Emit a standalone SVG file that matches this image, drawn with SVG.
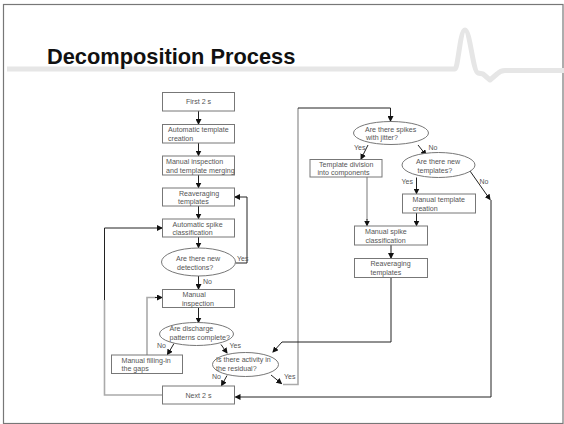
<svg xmlns="http://www.w3.org/2000/svg" width="564" height="424" viewBox="0 0 564 424">
<defs>
<marker id="ah" markerWidth="6" markerHeight="6" refX="5" refY="3" orient="auto" markerUnits="userSpaceOnUse">
<path d="M0,0 L6,3 L0,6 Z" fill="#111"/>
</marker>
<style>
.box{fill:#fff;stroke:#777;stroke-width:1}
.t{font-family:"Liberation Sans",Arial,sans-serif;font-size:7.1px;fill:#555}
.tc{font-family:"Liberation Sans",Arial,sans-serif;font-size:7.1px;fill:#555;text-anchor:middle}
.lbl{font-family:"Liberation Sans",Arial,sans-serif;font-size:7px;fill:#555}
.c{fill:none;stroke:#222;stroke-width:1}
.g{fill:none;stroke:#aaa;stroke-width:1.6}
</style>
</defs>
<rect x="0" y="0" width="564" height="424" fill="#fff"/>
<rect x="3.5" y="4.5" width="559.5" height="419" fill="none" stroke="#777" stroke-width="1.2"/>
<path d="M7 69 H455 C458 69 460 30 465 30 C470 30 473 72 478 73 L483 74 L490 80 L497 74 C499 72 501 70.5 505 70.5 H564" fill="none" stroke="#e6e6e6" stroke-width="5" stroke-linejoin="round"/>
<text x="47" y="64" font-family="'Liberation Sans',Arial,sans-serif" font-size="21.8" font-weight="bold" fill="#111">Decomposition Process</text>

<g id="connectors">
<path class="c" d="M198.5 111 V124" marker-end="url(#ah)"/>
<path class="c" d="M198.5 143 V155.5" marker-end="url(#ah)"/>
<path class="c" d="M198.5 175 V187.5" marker-end="url(#ah)"/>
<path class="c" d="M198.5 206 V218.5" marker-end="url(#ah)"/>
<path class="c" d="M198.5 237 V247.5" marker-end="url(#ah)"/>
<path class="c" d="M235.5 263 H247 V197 H235" marker-end="url(#ah)"/>
<path class="c" d="M198.5 276 V289" marker-end="url(#ah)"/>
<path class="c" d="M198.5 307.5 V322.5" marker-end="url(#ah)"/>
<path class="c" d="M174 343.5 L167.5 354.5" marker-end="url(#ah)"/>
<path class="c" d="M221 344.5 L227 353" marker-end="url(#ah)"/>
<path class="g" d="M147 355 V297.5 H156"/>
<path class="c" d="M155 297.5 H162" marker-end="url(#ah)"/>
<path class="c" d="M227 375.5 L221.5 385.5" marker-end="url(#ah)"/>
<path class="c" d="M271 375 L281.5 383.5" marker-end="url(#ah)"/>
<path class="g" d="M283 384.5 H298 V108"/>
<path class="c" d="M298 108 H390.5 V121" marker-end="url(#ah)"/>
<path class="g" d="M162.5 395 H104.5 V300"/>
<path class="c" d="M104.5 300 V228 H162" marker-end="url(#ah)"/>
<path class="c" d="M368 145 L361 159" marker-end="url(#ah)"/>
<path class="c" d="M418 145 L426 155" marker-end="url(#ah)"/>
<path class="g" d="M367 177 V220"/>
<path class="c" d="M367 219 V225.5" marker-end="url(#ah)"/>
<path class="c" d="M416.5 177.5 V193.5" marker-end="url(#ah)"/>
<path class="c" d="M470 171 L490 199.5" marker-end="url(#ah)"/>
<path class="c" d="M491 200 V397 H235.5" marker-end="url(#ah)"/>
<path class="c" d="M416.5 213 V225.5" marker-end="url(#ah)"/>
<path class="c" d="M391 245 V258" marker-end="url(#ah)"/>
<path class="c" d="M391 277.5 V342 H282 L273 352" marker-end="url(#ah)"/>
</g>

<g id="n1"><rect class="box" x="162.5" y="92.5" width="72" height="18.5"/><text class="tc" x="198.5" y="104">First 2 s</text></g>
<g id="n2"><rect class="box" x="162.5" y="124.5" width="72" height="18.5"/><text class="t" x="168" y="132">Automatic template</text><text class="t" x="168" y="140.5">creation</text></g>
<g id="n3"><rect class="box" x="162.5" y="156" width="72" height="19"/><text class="t" x="166" y="164">Manual inspection</text><text class="t" x="166" y="173">and template merging</text></g>
<g id="n4"><rect class="box" x="162.5" y="188" width="72" height="18"/><text class="t" x="179" y="195.5">Reaveraging</text><text class="t" x="178" y="204">templates</text></g>
<g id="n5"><rect class="box" x="162.5" y="219" width="72" height="18"/><text class="t" x="172.5" y="226.5">Automatic spike</text><text class="t" x="172.5" y="235">classification</text></g>
<g id="n6"><ellipse class="box" cx="198.5" cy="262" rx="37" ry="14"/><text class="t" x="176" y="261">Are there new</text><text class="t" x="177" y="270">detections?</text></g>
<g id="n7"><rect class="box" x="162.5" y="289.5" width="72" height="18"/><text class="t" x="182.5" y="297">Manual</text><text class="t" x="182" y="305.5">inspection</text></g>
<g id="n8"><ellipse class="box" cx="196.5" cy="334" rx="37" ry="11.5"/><text class="t" x="169.5" y="331">Are discharge</text><text class="t" x="169.5" y="340">patterns complete?</text></g>
<g id="n9"><rect class="box" x="111.5" y="355" width="71" height="18.5"/><text class="t" x="121.5" y="362.5">Manual filling-in</text><text class="t" x="121.5" y="371">the gaps</text></g>
<g id="n10"><ellipse class="box" cx="245.5" cy="364.5" rx="33" ry="12"/><text class="t" x="216" y="362">Is there activity in</text><text class="t" x="216" y="371">the residual?</text></g>
<g id="n11"><rect class="box" x="162.5" y="386" width="72" height="18"/><text class="tc" x="198.5" y="397.5">Next 2 s</text></g>
<g id="n12"><ellipse class="box" cx="391" cy="133" rx="37.5" ry="11.5"/><text class="t" x="365" y="131.5">Are there spikes</text><text class="t" x="366" y="140">with jitter?</text></g>
<g id="n13"><rect class="box" x="310" y="159.5" width="72" height="17.5"/><text class="t" x="319" y="166.5">Template division</text><text class="t" x="317.5" y="175">into components</text></g>
<g id="n14"><ellipse class="box" cx="438.5" cy="165" rx="36.5" ry="12.5"/><text class="t" x="416" y="164">Are there new</text><text class="t" x="417.5" y="172.5">templates?</text></g>
<g id="n15"><rect class="box" x="402.5" y="194" width="73" height="19"/><text class="t" x="412.5" y="201.5">Manual template</text><text class="t" x="412.5" y="210.5">creation</text></g>
<g id="n16"><rect class="box" x="354.5" y="226" width="73" height="19"/><text class="t" x="365" y="233.5">Manual spike</text><text class="t" x="365.5" y="242.5">classification</text></g>
<g id="n17"><rect class="box" x="354.5" y="258.5" width="73" height="19"/><text class="t" x="370.5" y="266">Reaveraging</text><text class="t" x="370.5" y="275">templates</text></g>

<g id="labels">
<text class="lbl" x="237" y="261">Yes</text>
<text class="lbl" x="203" y="284">No</text>
<text class="lbl" x="157" y="348">No</text>
<text class="lbl" x="229.5" y="348">Yes</text>
<text class="lbl" x="212" y="379">No</text>
<text class="lbl" x="284" y="379">Yes</text>
<text class="lbl" x="354" y="150">Yes</text>
<text class="lbl" x="428.5" y="150">No</text>
<text class="lbl" x="401.5" y="184">Yes</text>
<text class="lbl" x="479.5" y="184">No</text>
</g>
</svg>
